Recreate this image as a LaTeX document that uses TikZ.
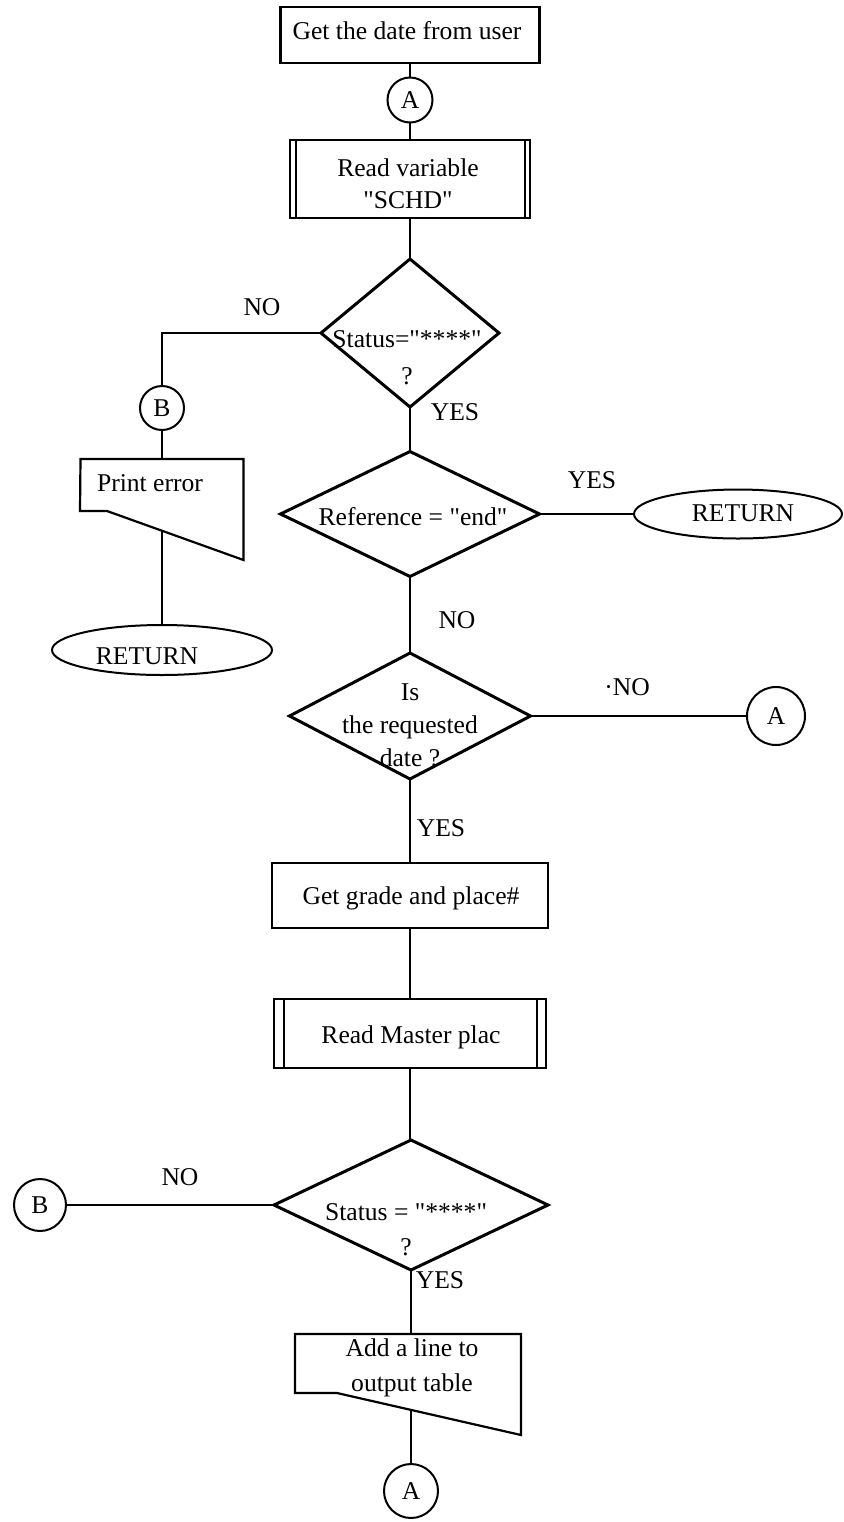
\documentclass[tikz,border=0pt]{standalone}
\usepackage{fontspec}
\setmainfont{Liberation Serif}[Ligatures=TeXOff]
\usetikzlibrary{shapes.geometric}
\begin{document}
\begin{tikzpicture}[x=0.5pt,y=-0.5pt,
  every node/.style={inner sep=0pt, outer sep=0pt},
  txt/.style={font=\fontsize{12.8pt}{16pt}\selectfont, align=center},
  lab/.style={font=\fontsize{12.8pt}{15pt}\selectfont},
  box/.style={draw, line width=1.1pt, rectangle},
  hid/.style={rectangle},
  dia/.style={draw, line width=1.5pt, diamond},
  conn/.style={draw, line width=1pt, circle, font=\fontsize{12.8pt}{15pt}\selectfont},
  term/.style={draw, line width=1pt, ellipse},
  flow/.style={line width=1pt},
  shp/.style={line width=1.1pt, line join=miter}]
\fill[white] (0,0) rectangle (844,1522);
\useasboundingbox (0,0) rectangle (844,1522);

% ---- shapes ----
\node[box, minimum width=129.5pt, minimum height=28pt] (gd) at (410,35) {};
\node[conn, minimum size=22.5pt] (A1) at (410,100) {A};
\node[box, minimum width=120pt, minimum height=39pt] (rv) at (410,179) {};
\draw[shp] ([xshift=3pt]rv.north west) -- ([xshift=3pt]rv.south west);
\draw[shp] ([xshift=-2.5pt]rv.north east) -- ([xshift=-2.5pt]rv.south east);
\node[dia, minimum width=89pt, minimum height=74pt] (d1) at (410,333) {};
\node[conn, minimum size=22pt] (B1) at (162,408) {B};

\node[hid, minimum width=81.5pt, minimum height=50.5pt] (pe) at (162,509.5) {};
\draw[shp] (pe.north west) -- (pe.north east) -- (pe.south east) -- (107,511) -- (80,511) -- cycle;
\coordinate (peout) at (162,530.8);
\node[term, minimum width=110pt, minimum height=25pt] (ret1) at (162,650) {};

\node[dia, minimum width=129.5pt, minimum height=62.5pt] (d2) at (410,514) {};
\node[term, minimum width=104pt, minimum height=24.5pt] (ret2) at (738,514) {};

\node[dia, minimum width=120.5pt, minimum height=63pt] (d3) at (410,716) {};
\node[conn, minimum size=29pt] (A2) at (776,716) {A};

\node[box, minimum width=138pt, minimum height=32.5pt] (gg) at (410,895.5) {};
\node[box, minimum width=136pt, minimum height=34.5pt] (rm) at (410,1033.5) {};
\draw[shp] ([xshift=5pt]rm.north west) -- ([xshift=5pt]rm.south west);
\draw[shp] ([xshift=-4.5pt]rm.north east) -- ([xshift=-4.5pt]rm.south east);

\node[dia, minimum width=137pt, minimum height=65pt] (d4) at (411,1205) {};
\node[conn, minimum size=26pt] (B2) at (40,1205) {B};

\node[hid, minimum width=113pt, minimum height=50.5pt] (al) at (408,1384.5) {};
\draw[shp] (al.north west) -- (al.north east) -- (al.south east) -- (337,1393) -- (295,1393) -- cycle;
\coordinate (alout) at (411,1410);
\node[conn, minimum size=27pt] (A3) at (411,1491) {A};

% ---- texts ----
\node[txt] (tgd) at (407,31) {Get the date from user};
\node[txt] (trv) at (408,184) {Read variable\\"SCHD"};
\node[txt, font=\fontsize{12.8pt}{18.5pt}\selectfont] (td1) at (407,358) {Status="****"\\?};
\node[txt] (tpe) at (150,483) {Print error};
\node[txt] (tret1) at (147,656) {RETURN};
\node[txt] (td2) at (413,517) {Reference = "end"};
\node[txt] (tret2) at (743,513) {RETURN};
\node[txt, font=\fontsize{12.8pt}{16.5pt}\selectfont] (td3) at (410,725) {Is\\the requested\\date ?};
\node[txt] (tgg) at (411,898) {Get grade and place\#};
\node[txt] (trm) at (411,1037) {Read Master plac};
\node[txt, font=\fontsize{12.8pt}{17.5pt}\selectfont] (td4) at (406,1230) {Status = "****"\\?};
\node[txt, font=\fontsize{12.8pt}{17.5pt}\selectfont] (tal) at (412,1368) {Add a line to\\output table};

% ---- connectors ----
\draw[flow] (gd.south) -- (A1.north);
\draw[flow] (A1.south) -- (rv.north);
\draw[flow] (rv.south) -- (d1.north);
\draw[flow] (d1.west) -| (B1.north);
\draw[flow] (B1.south) -- (pe.north);
\draw[flow] (peout) -- (ret1.north);
\draw[flow] (d1.south) -- (d2.north);
\draw[flow] (d2.east) -- (ret2.west);
\draw[flow] (d2.south) -- (d3.north);
\draw[flow] (d3.east) -- (A2.west);
\draw[flow] (d3.south) -- (gg.north);
\draw[flow] (gg.south) -- (rm.north);
\draw[flow] (rm.south) -- (rm.south |- d4.north) -- (d4.north);
\draw[flow] (d4.west) -- (B2.east);
\draw[flow] (d4.south) -- (al.north -| d4.south);
\draw[flow] (alout) -- (A3.north);

% ---- labels ----
\node[lab] (lno1) at (262,307) {NO};
\node[lab] (lyes1) at (455,412) {YES};
\node[lab] (lyes2) at (592,480) {YES};
\node[lab] (lno2) at (457,620) {NO};
\node[lab] (lno3) at (627,687) {\textperiodcentered NO};
\node[lab] (lyes3) at (441,828) {YES};
\node[lab] (lno4) at (180,1177) {NO};
\node[lab] (lyes4) at (440,1280) {YES};
\end{tikzpicture}
\end{document}
